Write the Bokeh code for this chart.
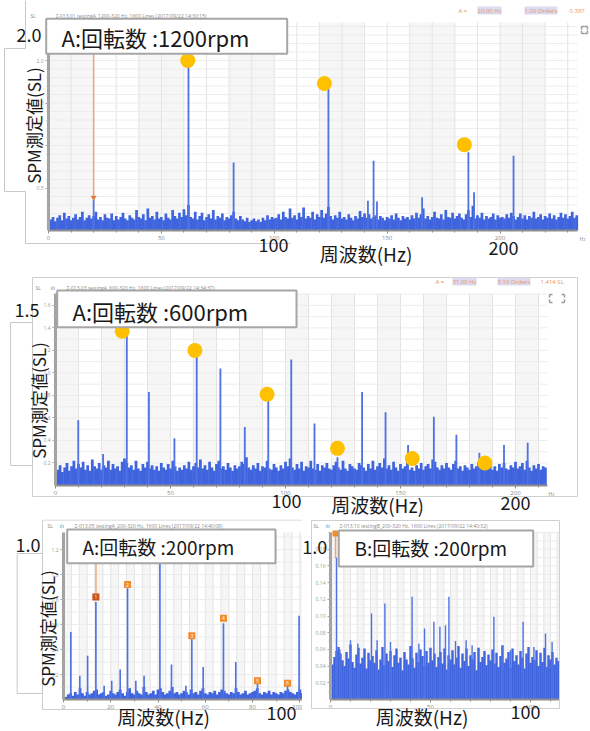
import math
import numpy as np
from bokeh.plotting import figure
from bokeh.models import (Label, BoxAnnotation, FixedTicker, SingleIntervalTicker,
                          Range1d, NumeralTickFormatter, ColumnDataSource)
from bokeh.layouts import column, row
from bokeh.embed import file_html
from bokeh.resources import INLINE
from bokeh.core.properties import value

JP = "Noto Sans CJK JP"
TINY = "Open Sans"

# ======================= DATA =======================
# ---- A : 1200 rpm  (noise floor in 0.01 SL, 1 Hz bins starting at 1 Hz) ----
a1200_noise = [
    13, 16, 11, 15, 18, 12, 21, 14, 17, 12, 15, 19, 13, 16, 22, 12, 15, 18, 14, 17,
    22, 13, 16, 12, 19, 15, 14, 20, 12, 17, 13, 16, 21, 14, 12, 18, 15, 13, 24, 16,
    14, 19, 12, 26, 15, 17, 13, 22, 14, 16, 12, 20, 15, 13, 24, 17, 14, 21, 16, 25,
    18, 30, 16, 14, 22, 13, 17, 21, 12, 16, 19, 14, 24, 13, 17, 15, 20, 12, 16, 14,
    18, 22, 14, 12, 17, 13, 11, 15, 10, 12, 14, 11, 13, 10, 15, 12, 18, 13, 16, 14,
    15, 19, 13, 22, 16, 14, 26, 15, 18, 13, 21, 16, 27, 14, 17, 15, 22, 13, 19, 16,
    24, 15, 20, 28, 17, 13, 18, 15, 22, 14, 16, 13, 19, 15, 12, 17, 14, 23, 16, 20,
    15, 19, 14, 16, 18, 13, 17, 15, 12, 16, 14, 18, 13, 20, 15, 12, 17, 14, 16, 13,
    18, 14, 21, 15, 19, 26, 14, 17, 13, 16, 22, 15, 14, 19, 13, 24, 16, 15, 21, 14,
    17, 20, 15, 13, 19, 24, 16, 29, 14, 18, 15, 21, 13, 17, 14, 16, 20, 13, 18, 15,
    16, 14, 19, 15, 21, 17, 13, 16, 20, 14, 18, 13, 17, 15, 22, 14, 16, 19, 13, 17,
    15, 20, 14, 18, 13, 16, 21, 15, 19, 14, 17, 22, 15, 18]
a1200_peak_hz = [20.0, 62.0, 82.0, 124.0, 141.5, 144.0, 145.5, 165.5, 186.0, 188.5, 206.0]
a1200_peak_sl = [0.36, 1.98, 0.80, 1.67, 0.35, 0.82, 0.34, 0.39, 0.92, 0.45, 0.88]
a1200_dot_hz = [61.7, 122.2, 184.2]
a1200_dot_sl = [2.00, 1.73, 1.01]
a1200_cursor_hz, a1200_cursor_sl = 20.0, 0.387
a1200_yticks = [0.5, 1.0, 1.5, 2.0]

# ---- A : 600 rpm ----
a600_noise = [
    14, 18, 12, 16, 20, 13, 17, 22, 15, 19, 16, 21, 14, 18, 13, 23, 17, 15, 20, 14,
    18, 16, 22, 14, 19, 15, 17, 13, 21, 24, 20, 16, 18, 14, 22, 15, 13, 19, 16, 21,
    15, 18, 14, 17, 13, 20, 16, 14, 19, 15, 22, 17, 13, 16, 14, 18, 15, 21, 14, 17,
    20, 16, 23, 15, 18, 14, 21, 16, 13, 19, 22, 15, 17, 14, 20, 16, 13, 18, 15, 17,
    21, 19, 25, 16, 14, 18, 15, 20, 13, 17, 16, 22, 15, 14, 19, 16, 13, 18, 15, 21,
    17, 24, 16, 14, 19, 15, 21, 13, 17, 16, 22, 15, 14, 19, 13, 18, 16, 20, 15, 14,
    18, 21, 16, 14, 22, 15, 13, 19, 17, 15, 14, 20, 18, 16, 13, 19, 15, 22, 14, 17,
    20, 16, 24, 15, 18, 14, 21, 16, 13, 19, 15, 17, 22, 14, 16, 13, 18, 15, 20, 14,
    17, 19, 15, 23, 21, 16, 14, 18, 15, 20, 16, 14, 19, 22, 15, 17, 13, 18, 16, 14,
    19, 15, 17, 21, 16, 14, 18, 15, 22, 14, 17, 13, 19, 16, 20, 15, 14, 18, 16, 21,
    15, 17, 20, 14, 22, 16, 13, 18, 15, 19, 14, 17, 16]
a600_peak_hz = [9.9, 20.7, 31.0, 40.6, 51.7, 61.4, 71.7, 82.3, 92.5, 102.5, 112.6, 122.6,
                133.3, 143.5, 153.3, 164.5, 174.3, 184.3, 195.0, 205.3]
a600_peak_sl = [0.58, 0.28, 1.33, 0.83, 0.42, 1.15, 1.04, 0.52, 0.75, 1.12, 0.55, 0.25,
                0.83, 0.65, 0.36, 0.61, 0.45, 0.29, 0.36, 0.38]
a600_dot_hz = [29.0, 60.6, 92.0, 122.6, 155.1, 186.7]
a600_dot_sl = [1.37, 1.20, 0.81, 0.33, 0.24, 0.20]
a600_yticks = [0.2, 0.4, 0.6, 0.8, 1.0, 1.2, 1.4, 1.6]

# ---- A : 200 rpm ----
a200_noise = [
    2, 4, 5, 3, 6, 4, 9, 5, 3, 6, 4, 5, 7, 8, 4, 5, 6, 3, 4, 7,
    5, 4, 6, 8, 5, 3, 6, 9, 5, 4, 7, 5, 4, 10, 6, 4, 5, 7, 4, 8,
    9, 6, 4, 5, 7, 10, 5, 6, 4, 5, 7, 6, 4, 8, 5, 6, 4, 7, 9, 5,
    4, 6, 5, 7, 4, 6, 8, 7, 5, 4, 6, 5, 9, 6, 4, 5, 7, 4, 5, 6,
    7, 9, 5, 4, 6, 5, 7, 4, 6, 5, 4, 6, 5, 7, 8, 6, 5, 4, 6, 8,
    5, 6]
a200_peak_hz = [3.1, 6.9, 10.2, 13.7, 17.2, 20.4, 24.0, 27.1, 30.6, 34.1, 40.8, 45.7,
                51.8, 54.3, 59.1, 67.7, 72.9, 82.1, 94.8, 99.7]
a200_peak_sl = [0.54, 0.19, 0.35, 0.78, 0.11, 0.15, 0.24, 0.89, 0.15, 0.19, 1.25, 0.28,
                0.11, 0.49, 0.26, 0.61, 0.30, 0.13, 0.11, 0.67]
a200_mark_hz = [13.7, 27.1, 54.3, 67.7, 82.1, 94.8]
a200_mark_sl = [0.82, 0.92, 0.51, 0.65, 0.15, 0.13]
a200_mark_id = ["1", "2", "3", "4", "5", "6"]
a200_yticks = [0.2, 0.4, 0.6, 0.8, 1.0, 1.2]

# ---- B : 200 rpm  (noise floor in 0.001 SL) ----
b200_noise = [
    42, 51, 58, 63, 55, 47, 40, 57, 49, 66, 45, 38, 54, 62, 43, 50, 61, 37, 56, 47,
    52, 44, 59, 36, 48, 63, 41, 55, 46, 58, 39, 53, 61, 44, 50, 35, 57, 48, 42, 64,
    49, 38, 56, 45, 60, 52, 40, 58, 44, 62, 47, 55, 39, 51, 57, 43, 61, 36, 53, 48,
    59, 42, 50, 64, 38, 55, 46, 61, 40, 53, 48, 57, 35, 62, 45, 51, 58, 41, 54, 47,
    60, 43, 56, 39, 52, 65, 44, 49, 57, 38, 61, 46, 53, 42, 58, 50, 37, 55, 63, 44,
    51, 47, 59, 40, 56, 45, 62, 39, 53, 48, 57, 42, 50, 46]
b200_peak_hz = [3.0, 4.7, 10.0, 13.7, 20.5, 23.3, 27.2, 30.0, 40.8, 44.2, 47.0, 51.7, 54.7,
                57.5, 59.2, 62.5, 67.8, 70.8, 81.7, 85.8, 90.0, 96.3, 101.7, 107.5, 110.8]
b200_peak_sl = [0.170, 0.060, 0.071, 0.067, 0.103, 0.071, 0.115, 0.069, 0.123, 0.067, 0.085,
                0.093, 0.087, 0.089, 0.123, 0.070, 0.071, 0.065, 0.099, 0.063, 0.059, 0.093,
                0.063, 0.079, 0.069]
b200_cursor_hz = 2.5
b200_yticks = [0.02, 0.04, 0.06, 0.08, 0.10, 0.12, 0.14, 0.16, 0.18]

# ======================= STYLE / LAYOUT =======================
BLUE = "#3f64de"
PEAK = "#4f72e4"
GOLD = "#ffc000"
ORANGE_T = "#e9955f"
LAV = "#dcdcf0"


class Panel:
    """One screenshot panel; the figure frame fills its whole canvas (page px coords)."""

    def __init__(self, origin, size, fx0, fy0, sx, sy, right_px, top_px):
        self.ox, self.oy = origin
        self.w, self.h = size
        self.fx0, self.fy0, self.sx, self.sy = fx0, fy0, sx, sy
        self.xe = self.X(right_px)
        self.ye = self.Y(top_px)
        self.p = figure(width=self.w, height=self.h,
                        x_range=Range1d(self.X(self.ox), self.X(self.ox + self.w)),
                        y_range=Range1d(self.Y(self.oy + self.h), self.Y(self.oy)),
                        output_backend="svg", toolbar_location=None, title=None,
                        min_border_left=0, min_border_right=0,
                        min_border_top=0, min_border_bottom=0)
        p = self.p
        p.outline_line_color = None
        p.background_fill_color = "white"
        p.border_fill_color = "white"
        p.grid.visible = False

    def X(self, px):
        return (px - self.fx0) / self.sx

    def Y(self, py):
        return (self.fy0 - py) / self.sy

    def background(self, band, gdx, gdy):
        p, xe, ye = self.p, self.xe, self.ye
        lefts = np.arange(0, xe, 2 * band)
        p.quad(left=lefts, right=np.minimum(lefts + band, xe), bottom=0, top=ye,
               fill_color="#000000", fill_alpha=0.035, line_color=None)
        gx = np.arange(gdx, xe, gdx)
        p.segment(x0=gx, y0=0, x1=gx, y1=ye, line_color="#e3e3e3", line_width=1)
        gy = np.arange(gdy, ye, gdy)
        p.segment(x0=0, y0=gy, x1=xe, y1=gy, line_color="#ececec", line_width=1)

    def axes(self, xint, xminor, yticks, yminor, yfmt):
        p = self.p
        xa = p.xaxis[0]
        xa.fixed_location = 0
        xa.bounds = (0, self.xe)
        xa.ticker = SingleIntervalTicker(interval=xint, num_minor_ticks=xminor)
        xa.axis_line_color = "#8d8d8d"
        xa.axis_line_width = 2
        xa.major_tick_line_color = "#8d8d8d"
        xa.minor_tick_line_color = "#8d8d8d"
        xa.major_tick_out, xa.major_tick_in = 3, 0
        xa.minor_tick_out, xa.minor_tick_in = 2, 0
        xa.major_label_text_font = TINY
        xa.major_label_text_font_size = "6px"
        xa.major_label_text_color = "#8a8a8a"
        xa.major_label_standoff = 2

        ya = p.yaxis[0]
        ya.fixed_location = 0
        ya.bounds = (0, self.ye)
        ya.ticker = FixedTicker(ticks=yticks,
                                minor_ticks=[round(v, 4) for v in np.arange(yminor, self.ye, yminor)])
        ya.formatter = NumeralTickFormatter(format=yfmt)
        ya.axis_line_color = "#a3a3a3"
        ya.axis_line_width = 3
        ya.major_tick_line_color = "#9a9a9a"
        ya.minor_tick_line_color = "#b0b0b0"
        ya.major_tick_out, ya.major_tick_in = 3, 0
        ya.minor_tick_out, ya.minor_tick_in = 2, 0
        ya.major_label_text_font = TINY
        ya.major_label_text_font_size = "5px"
        ya.major_label_text_color = "#9a9a9a"
        ya.major_label_standoff = 2

    def spectrum(self, noise, unit, peak_hz, peak_sl, peak_w):
        p = self.p
        nx = np.arange(1, len(noise) + 1, dtype=float)
        nx = nx[nx <= self.xe]
        top = np.array(noise[:len(nx)]) * unit
        p.vbar(x=nx, width=1.2, bottom=0, top=top, fill_color=BLUE, line_color=None)
        p.vbar(x=peak_hz, width=peak_w, bottom=0, top=peak_sl,
               fill_color=PEAK, line_color=None)

    def label(self, text, px, py, size, color="#1a1a1a", font=JP, align="left",
              angle=0.0, bg=None):
        kw = {}
        if bg:
            kw = dict(background_fill_color=bg, background_fill_alpha=1.0)
        self.p.add_layout(Label(x=self.X(px), y=self.Y(py), text=text, text_font=font,
                                text_font_size=f"{size}px", text_color=color,
                                text_align=align, text_baseline="middle", angle=angle, **kw))

    def box(self, x1, y1, x2, y2, line="#a8a8a8", lw=1.0, fill=None):
        self.p.add_layout(BoxAnnotation(left=self.X(x1), right=self.X(x2),
                                        top=self.Y(y1), bottom=self.Y(y2),
                                        fill_color=fill if fill else "white",
                                        fill_alpha=1.0 if fill else 0.0,
                                        line_color=line, line_width=lw, line_alpha=1.0))

    def lines(self, segs, color="#c8c8c8", width=1.0):
        self.p.segment(x0=[self.X(s[0]) for s in segs], y0=[self.Y(s[1]) for s in segs],
                       x1=[self.X(s[2]) for s in segs], y1=[self.Y(s[3]) for s in segs],
                       line_color=color, line_width=width)

    def expand_icon(self, x1, y1, x2, y2):
        c = 3
        segs = [(x1, y1, x1 + c, y1), (x1, y1, x1, y1 + c),
                (x2, y1, x2 - c, y1), (x2, y1, x2, y1 + c),
                (x1, y2, x1 + c, y2), (x1, y2, x1, y2 - c),
                (x2, y2, x2 - c, y2), (x2, y2, x2, y2 - c)]
        self.lines(segs, color="#9a9a9a", width=1.5)


# ---------------- Panel 1 : A 1200 rpm ----------------
P1 = Panel((0, 0), (590, 267), 48, 230, 2.2575, 85.0, 577, 22)
P1.lines([(4, 48, 25, 48), (25, 0, 25, 48), (4, 48, 4, 191), (4, 191, 25, 191),
          (25, 191, 25, 243), (25, 243, 290, 243)])
P1.background(20.0, 10.0, 0.1)
P1.spectrum(a1200_noise, 0.01, a1200_peak_hz, a1200_peak_sl, 0.8)
P1.axes(50, 5, a1200_yticks, 0.1, "0.0")
p1 = P1.p
p1.segment(x0=[a1200_cursor_hz], y0=[P1.ye], x1=[a1200_cursor_hz], y1=[a1200_cursor_sl],
           line_color="#eda27c", line_width=1.5)
p1.scatter(x=[a1200_cursor_hz], y=[a1200_cursor_sl], marker="inverted_triangle", size=6,
           fill_color="#e27a44", line_color=None)
p1.scatter(x=a1200_dot_hz, y=a1200_dot_sl, size=15, fill_color=GOLD, line_color=None)
P1.expand_icon(581, 26, 587, 33)
P1.box(45.7, 18.3, 286.7, 53.3, line="#a6a6a6", lw=2, fill="white")
P1.label("A:回転数 :1200rpm", 61, 36.5, 22)
P1.label("2.0", 28.5, 34, 18, align="center")
P1.label("100", 273, 244.5, 18, align="center")
P1.label("200", 503, 247, 18, align="center")
P1.label("周波数(Hz)", 365.5, 253, 19, align="center")
P1.label("SPM測定値(SL)", 33, 125, 17, align="center", angle=math.pi / 2)
P1.label("SL", 30, 15.5, 5, color="#8a8a8a", font=TINY)
P1.label("Z-013.01  testingA_1200-320 Hz, 1600 Lines (2017/09/22 14:30:15)",
         55, 15.5, 5, color="#8a8a8a", font=TINY)
P1.label("A  =", 458, 10, 6, color=ORANGE_T, font=TINY)
P1.label("20.00 Hz", 477, 10, 6, color=ORANGE_T, font=TINY, bg=LAV)
P1.label("1.00 Orders", 524, 10, 6, color=ORANGE_T, font=TINY, bg=LAV)
P1.label("0.387", 569, 10, 6, color=ORANGE_T, font=TINY)
P1.label("Hz", 582, 238, 5, color="#8a8a8a", font=TINY, align="center")

# ---------------- Panel 2 : A 600 rpm ----------------
P2 = Panel((0, 267), (590, 252), 55, 485, 2.3, 112.6, 546.7, 293)
P2.background(10.0, 10.0, 0.1)
P2.spectrum(a600_noise, 0.01, a600_peak_hz, a600_peak_sl, 0.8)
P2.axes(50, 5, a600_yticks, 0.1, "0.0")
p2 = P2.p
p2.scatter(x=a600_dot_hz, y=a600_dot_sl, size=15, fill_color=GOLD, line_color=None)
P2.expand_icon(549, 294, 564, 302)
P2.box(32, 277, 577, 496, line="#cfcfcf", lw=1)
P2.box(10, 322, 32, 465, line="#c8c8c8", lw=1)
P2.box(56.7, 290, 296, 326.7, line="#a6a6a6", lw=2, fill="white")
P2.label("A:回転数 :600rpm", 72, 310, 22)
P2.label("1.5", 26.5, 309, 18, align="center")
P2.label("100", 286, 500, 18, align="center")
P2.label("200", 515, 502, 18, align="center")
P2.label("周波数(Hz)", 377, 504, 19, align="center")
P2.label("SPM測定値(SL)", 38, 400, 17, align="center", angle=math.pi / 2)
P2.label("SL", 35, 287, 5, color="#8a8a8a", font=TINY)
P2.label("ılı", 50, 287, 6, color="#6b7fb8", font=TINY)
P2.label("Z-013.03  testingA_600-320 Hz, 1600 Lines (2017/09/22 14:34:37)",
         66, 287, 5, color="#8a8a8a", font=TINY)
P2.label("A  =", 435, 281, 6, color=ORANGE_T, font=TINY)
P2.label("31.00 Hz", 452, 281, 6, color=ORANGE_T, font=TINY, bg=LAV)
P2.label("3.10 Orders", 497, 281, 6, color=ORANGE_T, font=TINY, bg=LAV)
P2.label("1.414 SL", 540, 281, 6, color=ORANGE_T, font=TINY)
P2.label("Hz", 551, 493, 5, color="#8a8a8a", font=TINY, align="center")

# ---------------- Panel 3 : A 200 rpm ----------------
P3 = Panel((0, 519), (302, 211), 63, 699, 2.363, 125.0, 305, 532)
P3.background(10.0 / 3, 10.0 / 3, 0.1)
P3.spectrum(a200_noise, 0.01, a200_peak_hz, a200_peak_sl, 0.7)
P3.axes(20, 2, a200_yticks, 0.1, "0.0")
p3 = P3.p
p3.segment(x0=[a200_mark_hz[0]], y0=[P3.Y(562.7)], x1=[a200_mark_hz[0]], y1=[a200_mark_sl[0]],
           line_color="#f1b995", line_width=2)
cols = ["#c9531d"] + ["#f28a2e"] * (len(a200_mark_hz) - 1)
src3 = ColumnDataSource(dict(x=a200_mark_hz, y=a200_mark_sl, t=a200_mark_id, c=cols))
p3.scatter(x="x", y="y", source=src3, marker="square", size=7, fill_color="c", line_color=None)
p3.text(x="x", y="y", text="t", source=src3, text_font=value(TINY), text_font_size="5px",
        text_color="white", text_align="center", text_baseline="middle")
P3.box(42, 519.5, 305, 709, line="#cfcfcf", lw=1)
P3.box(16.7, 553, 42, 693, line="#c8c8c8", lw=1)
P3.box(66.7, 529, 275, 562.7, line="#a6a6a6", lw=2, fill="white")
P3.label("A:回転数 :200rpm", 82, 546, 19)
P3.label("1.0", 27.5, 544, 18, align="center")
P3.label("100", 281, 712, 18, align="center")
P3.label("周波数(Hz)", 163, 716, 19, align="center")
P3.label("SPM測定値(SL)", 46.7, 628, 17, align="center", angle=math.pi / 2)
P3.label("SL", 47, 525, 5, color="#8a8a8a", font=TINY)
P3.label("ılı", 59, 525, 6, color="#6b7fb8", font=TINY)
P3.label("Z-013.05  testingA_200-320 Hz, 1600 Lines (2017/09/22 14:40:08)",
         74, 525, 5, color="#8a8a8a", font=TINY)

# ---------------- Panel 4 : B 200 rpm ----------------
P4 = Panel((302, 519), (288, 211), 330, 699, 2.0, 835.0, 559.3, 531.7)
P4.background(10.0 / 3, 10.0 / 3, 0.01)
P4.spectrum(b200_noise, 0.001, b200_peak_hz, b200_peak_sl, 0.7)
P4.axes(50, 5, b200_yticks, 0.01, "0.00")
p4 = P4.p
p4.segment(x0=[b200_cursor_hz], y0=[P4.ye], x1=[b200_cursor_hz], y1=[P4.Y(558)],
           line_color="#eda27c", line_width=1.5)
p4.scatter(x=[b200_cursor_hz], y=[P4.Y(533)], marker="square", size=6,
           fill_color="#f28a2e", line_color=None)
P4.box(311, 520, 559, 708, line="#cfcfcf", lw=1)
P4.box(338.3, 530, 532.7, 566, line="#a6a6a6", lw=2, fill="white")
P4.label("B:回転数 :200rpm", 354, 547, 19)
P4.label("1.0", 314.3, 546.7, 18, align="center")
P4.label("100", 525, 711.5, 18, align="center")
P4.label("周波数(Hz)", 421.5, 715.5, 19, align="center")
P4.label("SL", 313, 525, 5, color="#8a8a8a", font=TINY)
P4.label("ılı", 325, 525, 6, color="#6b7fb8", font=TINY)
P4.label("Z-013.10  testingB_200-320 Hz, 1600 Lines (2017/09/22 14:40:32)",
         339, 525, 5, color="#8a8a8a", font=TINY)

layout = column(p1, p2, row(p3, p4, spacing=0), spacing=0)
open("out.html", "w").write(file_html(layout, INLINE))
